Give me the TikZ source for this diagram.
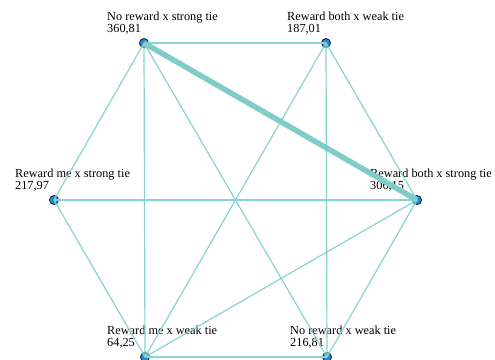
\documentclass[tikz,border=0pt]{standalone}
\usepackage{fontspec}
\setmainfont{Liberation Serif}
\definecolor{tieteal}{RGB}{134,212,208}
\definecolor{dotblue}{RGB}{38,138,212}
\definecolor{dotrim}{RGB}{24,44,68}
\tikzset{
  dot/.style={circle, draw=dotrim, fill=dotblue, line width=0.9pt, inner sep=0pt, minimum size=9pt},
  lbl/.style={anchor=north west, inner sep=0pt, align=left, font=\fontsize{12.3}{11.5}\selectfont},
  tie/.style={draw=tieteal, line width=1.2pt},
  heavytie/.style={draw=tieteal!96!black, line width=5.5pt}
}
\begin{document}
\begin{tikzpicture}[x=1pt,y=-1pt]
		\useasboundingbox (0,0) rectangle (495,359);
		
		\node[dot] (ns) at (144,43) {};
		\node[dot] (bw) at (326,43) {};
		\node[dot] (ms) at (54,200) {};
		\node[dot] (bs) at (417,200) {};
		\node[dot] (mw) at (145,357) {};
		\node[dot] (nw) at (327,357) {};
		
		\node[lbl] (ns-l) at (107,12) {No reward x strong tie\\360,81};
		\node[lbl] (bw-l) at (287,12) {Reward both x weak tie\\187,01};
		\node[lbl] (ms-l) at (15,169) {Reward me x strong tie\\217,97};
		\node[lbl] (bs-l) at (370,169) {Reward both x strong tie\\306,15};
		\node[lbl] (mw-l) at (107,326) {Reward me x weak tie\\64,25};
		\node[lbl] (nw-l) at (290,326) {No reward x weak tie\\216,81};
		
		\draw[tie] (ns.center) -- (bw.center);
		\draw[tie] (ns.center) -- (ms.center);
		\draw[tie] (ns.center) -- (mw.center);
		\draw[tie] (ns.center) -- (nw.center);
		\draw[tie] (bw.center) -- (bs.center);
		\draw[tie] (bw.center) -- (mw.center);
		\draw[tie] (bw.center) -- (nw.center);
		\draw[tie] (ms.center) -- (bs.center);
		\draw[tie] (ms.center) -- (mw.center);
		\draw[tie] (bs.center) -- (mw.center);
		\draw[tie] (bs.center) -- (nw.center);
		\draw[tie] (mw.center) -- (nw.center);
		
		\draw[heavytie] (ns.center) -- (bs.center);
	\end{tikzpicture}
\end{document}
